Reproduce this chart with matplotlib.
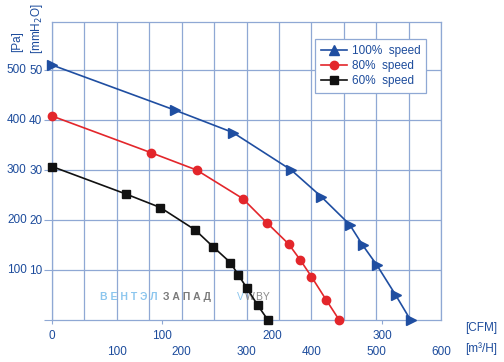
import matplotlib
matplotlib.use("Agg")
import matplotlib.pyplot as plt
from matplotlib.lines import Line2D

plt.rcParams['font.family'] = ['Liberation Sans', 'DejaVu Sans']

# airflow in m3/h, pressure in Pa
flow_100 = [0, 189, 279, 369, 415, 459, 479, 501, 530, 553]
pres_100 = [510, 420, 375, 300, 247, 191, 150, 110, 50, 0]

flow_80 = [0, 152, 223, 294, 331, 365, 383, 400, 423, 443]
pres_80 = [408, 335, 300, 243, 195, 152, 120, 87, 40, 0]

flow_60 = [0, 114, 167, 221, 248, 275, 287, 300, 317, 333]
pres_60 = [307, 252, 225, 180, 147, 115, 91, 65, 30, 0]

cfm_ticks = [0, 100, 200, 300]
m3h_ticks = [100, 200, 300, 400, 500, 600]
pa_ticks = [100, 200, 300, 400, 500]
mm_ticks = [0, 10, 20, 30, 40, 50]

labels = ['100%  speed', '80%  speed', '60%  speed']

blue = '#1f4ea1'
red = '#e3262b'
grid_c = '#8fa8d4'
txt_c = '#1d4c9c'

fig = plt.figure(figsize=(5.04, 3.62), dpi=100)
ax = fig.add_axes([52/504, 42/362, 389/504, 298/362])

ax.set_xlim(0, 600)
ax.set_ylim(0, 596)

for x in range(0, 601, 50):
    ax.axvline(x, color=grid_c, lw=0.9, zorder=1)
for y in range(100, 501, 100):
    ax.axhline(y, color=grid_c, lw=0.9, zorder=1)
for s in ax.spines.values():
    s.set_color(grid_c)
    s.set_linewidth(0.9)

ax.plot(flow_100, pres_100, color=blue, lw=1.2, marker='>', ms=7, clip_on=False, zorder=3)
ax.plot(flow_80, pres_80, color=red, lw=1.2, marker='o', ms=6, clip_on=False, zorder=3)
ax.plot(flow_60, pres_60, color='#111111', lw=1.2, marker='s', ms=5.5, clip_on=False, zorder=3)

# x axis: CFM ticks (1 CFM = 1.699 m3/h)
ax.set_xticks([c * 1.699 for c in cfm_ticks])
ax.set_xticklabels([str(c) for c in cfm_ticks])
ax.tick_params(axis='x', direction='out', length=3, pad=4, colors=grid_c,
               labelcolor=txt_c, labelsize=8.5)
for m in m3h_ticks:
    ax.text(m, -0.107, str(m), transform=ax.get_xaxis_transform(),
            ha='center', va='center', color=txt_c, fontsize=8.5)

# y axis: mmH2O as tick labels, Pa as extra text
ax.set_yticks([v * 10 for v in mm_ticks])
ax.set_yticklabels([''] + [str(v) for v in mm_ticks[1:]])
ax.tick_params(axis='y', direction='out', length=6, pad=1, colors=grid_c,
               labelcolor=txt_c, labelsize=8.5)
for p in pa_ticks:
    ax.text(-0.065, p, str(p), transform=ax.get_yaxis_transform(),
            ha='right', va='center', color=txt_c, fontsize=8.5)

fig.text(17/504, 1 - 42/362, '[Pa]', rotation=90, ha='center', va='center',
         color=txt_c, fontsize=8.5)
fig.text(37/504, 1 - 29/362, '[mmH$_2$O]', rotation=90, ha='center', va='center',
         color=txt_c, fontsize=8.5)
fig.text(465/504, 1 - 328/362, '[CFM]', ha='left', va='center', color=txt_c, fontsize=8.5)
fig.text(465/504, 1 - 349/362, '[m³/H]', ha='left', va='center', color=txt_c, fontsize=8.5)

# watermark
wm_y = 23/298 * 596
ax.text(74, wm_y, 'В Е Н Т Э Л', color='#8cc6ee', fontsize=7.5,
        fontweight='bold', ha='left', va='center', zorder=2)
ax.text(171, wm_y, 'З А П А Д', color='#7a7a7a', fontsize=7.5,
        fontweight='bold', ha='left', va='center', zorder=2)
ax.text(285, wm_y, 'V', color='#8cc6ee', fontsize=7.5,
        ha='left', va='center', zorder=2)
ax.text(297, wm_y, 'W.BY', color='#8a8a8a', fontsize=7.5,
        ha='left', va='center', zorder=2)

handles = [Line2D([], [], color=blue, lw=1.2, marker='^', ms=7),
           Line2D([], [], color=red, lw=1.2, marker='o', ms=6),
           Line2D([], [], color='#111111', lw=1.2, marker='s', ms=5.5)]
leg = fig.legend(handles, labels, loc='upper right',
                 bbox_to_anchor=(432/504, 1 - 33/362), frameon=True,
                 fancybox=False, edgecolor=grid_c, framealpha=1,
                 fontsize=8.5, labelspacing=0.25, handlelength=2.2,
                 handletextpad=0.4, borderpad=0.5, labelcolor=txt_c)
leg.get_frame().set_linewidth(0.9)

fig.savefig('out.png', dpi=100)
